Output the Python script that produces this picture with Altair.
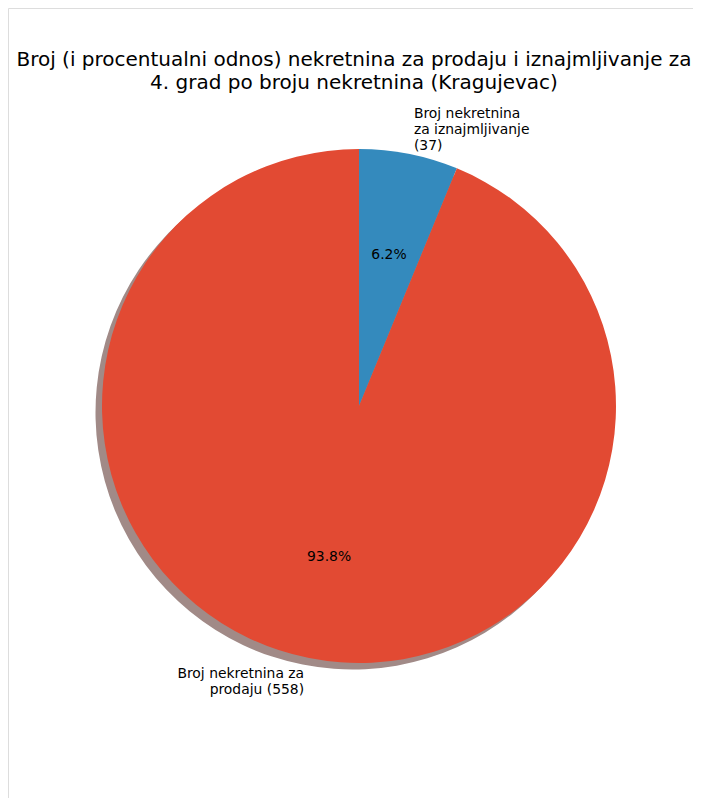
import altair as alt
import pandas as pd

# Data
categories = ["Broj nekretnina za iznajmljivanje", "Broj nekretnina za prodaju"]
values = [37, 558]
labels = ["Broj nekretnina\nza iznajmljivanje\n(37)", "Broj nekretnina za\nprodaju (558)"]
percents = ["6.2%", "93.8%"]
colors = ["#348ABD", "#E24A33"]
shadow_colors = ["#87949c", "#a18a87"]
title_text = "Broj (i procentualni odnos) nekretnina za prodaju i iznajmljivanje za\n4. grad po broju nekretnina (Kragujevac)"

df = pd.DataFrame({
    "cat": categories,
    "value": values,
    "label": labels,
    "pct": percents,
    "idx": list(range(len(categories))),
})

W, H = 685, 790
CX, CY = 351, 398
R = 257
FONT = "DejaVu Sans"
LH = 16.2

base = alt.Chart(df).encode(
    theta=alt.Theta("value:Q", stack=True),
    order=alt.Order("idx:Q"),
)

shadow = base.mark_arc(outerRadius=R).encode(
    x=alt.value(CX - 6.5),
    y=alt.value(CY + 6.5),
    fill=alt.Fill("cat:N", scale=alt.Scale(domain=categories, range=shadow_colors), legend=None),
)

pie = base.mark_arc(outerRadius=R).encode(
    x=alt.value(CX),
    y=alt.value(CY),
    color=alt.Color("cat:N", scale=alt.Scale(domain=categories, range=colors), legend=None),
)

label_left = base.mark_text(
    radius=R * 1.1, align="left", baseline="middle", font=FONT, fontSize=13.9,
    lineBreak="\n", lineHeight=LH, dy=-LH + 1.5, color="black",
).encode(
    x=alt.value(CX), y=alt.value(CY),
    text=alt.condition(alt.datum.idx == 0, alt.Text("label:N"), alt.value("")),
)

label_right = base.mark_text(
    radius=R * 1.1, align="right", baseline="middle", font=FONT, fontSize=13.9,
    lineBreak="\n", lineHeight=LH, dy=-LH / 2 - 1, color="black",
).encode(
    x=alt.value(CX), y=alt.value(CY),
    text=alt.condition(alt.datum.idx == 1, alt.Text("label:N"), alt.value("")),
)

pct_text = base.mark_text(
    radius=R * 0.6, align="center", baseline="middle", font=FONT, fontSize=13.9, color="black",
).encode(
    x=alt.value(CX), y=alt.value(CY),
    text=alt.Text("pct:N"),
)

title = alt.Chart(pd.DataFrame({"t": [title_text]})).mark_text(
    align="center", baseline="alphabetic", font=FONT, fontSize=20,
    lineBreak="\n", lineHeight=23, color="black",
).encode(
    x=alt.value(346),
    y=alt.value(58),
    text="t:N",
)

chart = alt.layer(shadow, pie, label_left, label_right, pct_text, title).resolve_scale(
    color="independent", fill="independent"
).properties(
    width=W, height=H, padding=0, autosize=alt.AutoSizeParams(type="none"),
).configure_view(stroke=None).configure(background="white")

chart.save("out.html", embed_options={"renderer": "svg", "actions": False})
